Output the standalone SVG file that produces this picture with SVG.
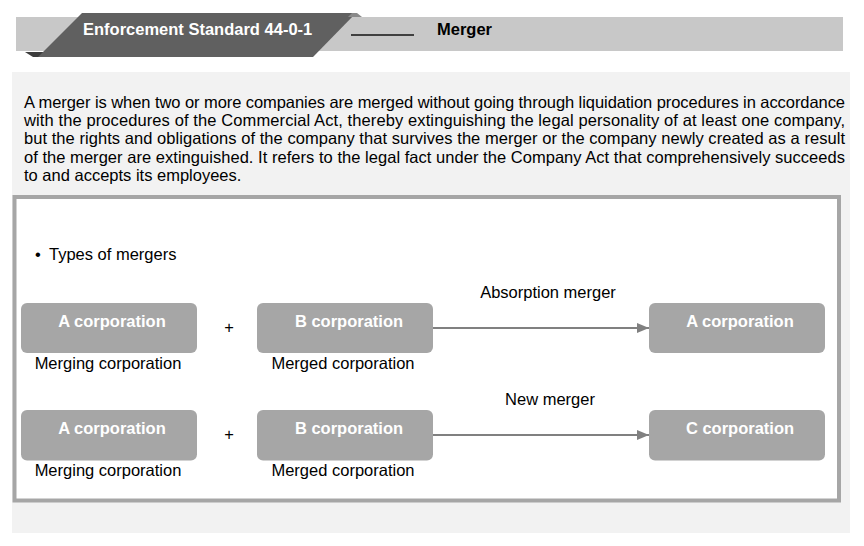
<svg xmlns="http://www.w3.org/2000/svg" width="864" height="546" viewBox="0 0 864 546">
<defs>
<style>
text{font-family:"Liberation Sans",Arial,sans-serif;font-size:16.5px;fill:#000}
.b{font-weight:bold}
.w{fill:#fff;font-weight:bold}
.box{fill:#a6a6a6}
.con{stroke:#808080;stroke-width:2;fill:none}
</style>
<marker id="ah" viewBox="0 0 12 10" refX="12" refY="5" markerWidth="12" markerHeight="10" markerUnits="userSpaceOnUse" orient="auto">
<path d="M0,0 L12,5 L0,10 Z" fill="#808080"/>
</marker>
</defs>
<rect width="864" height="546" fill="#fff"/>
<g id="header">
<rect x="16" y="17" width="827" height="34" fill="#c8c8c8"/>
<polygon points="25,52 48,52 42,57 33,57" fill="#3c3c3c"/>
<polygon points="82,13 356,13 313,57 38,57" fill="#606060"/>
<polygon points="352,13 357,13 362,17 348,17" fill="#8a8a8a"/>
<text x="83" y="35" class="w">Enforcement Standard 44-0-1</text>
<line x1="351" y1="35" x2="414" y2="35" stroke="#404040" stroke-width="2"/>
<text x="437" y="35" class="b">Merger</text>
</g>
<g id="panel">
<rect x="12" y="72" width="838" height="461" fill="#f2f2f2"/>
<text x="24" y="107.5" textLength="821" lengthAdjust="spacing">A merger is when two or more companies are merged without going through liquidation procedures in accordance</text>
<text x="24" y="125.8" textLength="821" lengthAdjust="spacing">with the procedures of the Commercial Act, thereby extinguishing the legal personality of at least one company,</text>
<text x="24" y="144.2" textLength="821" lengthAdjust="spacing">but the rights and obligations of the company that survives the merger or the company newly created as a result</text>
<text x="24" y="162.6" textLength="821" lengthAdjust="spacing">of the merger are extinguished. It refers to the legal fact under the Company Act that comprehensively succeeds</text>
<text x="24" y="181">to and accepts its employees.</text>
<rect x="14.5" y="197" width="824.5" height="303.5" fill="#fff" stroke="#a6a6a6" stroke-width="4"/>
<text x="35" y="260">•</text>
<text x="49" y="260">Types of mergers</text>
</g>
<g id="connectors">
<line class="con" x1="433" y1="328" x2="649" y2="328" marker-end="url(#ah)"/>
<line class="con" x1="433" y1="435" x2="649" y2="435" marker-end="url(#ah)"/>
<text x="548" y="298" text-anchor="middle">Absorption merger</text>
<text x="550" y="405" text-anchor="middle">New merger</text>
</g>
<g id="r1a">
<rect class="box" x="21" y="303" width="176" height="50" rx="6"/>
<text x="112" y="327" class="w" text-anchor="middle">A corporation</text>
<text x="108" y="369" text-anchor="middle">Merging corporation</text>
</g>
<text x="229" y="333" text-anchor="middle" font-size="14">+</text>
<g id="r1b">
<rect class="box" x="257" y="303" width="176" height="50" rx="6"/>
<text x="349" y="327" class="w" text-anchor="middle">B corporation</text>
<text x="343" y="369" text-anchor="middle">Merged corporation</text>
</g>
<g id="r1c">
<rect class="box" x="649" y="303" width="176" height="50" rx="6"/>
<text x="740" y="327" class="w" text-anchor="middle">A corporation</text>
</g>
<g id="r2a">
<rect class="box" x="21" y="410" width="176" height="50.5" rx="6"/>
<text x="112" y="434" class="w" text-anchor="middle">A corporation</text>
<text x="108" y="476" text-anchor="middle">Merging corporation</text>
</g>
<text x="229" y="440" text-anchor="middle" font-size="14">+</text>
<g id="r2b">
<rect class="box" x="257" y="410" width="176" height="50.5" rx="6"/>
<text x="349" y="434" class="w" text-anchor="middle">B corporation</text>
<text x="343" y="476" text-anchor="middle">Merged corporation</text>
</g>
<g id="r2c">
<rect class="box" x="649" y="410" width="176" height="50.5" rx="6"/>
<text x="740" y="434" class="w" text-anchor="middle">C corporation</text>
</g>
</svg>
